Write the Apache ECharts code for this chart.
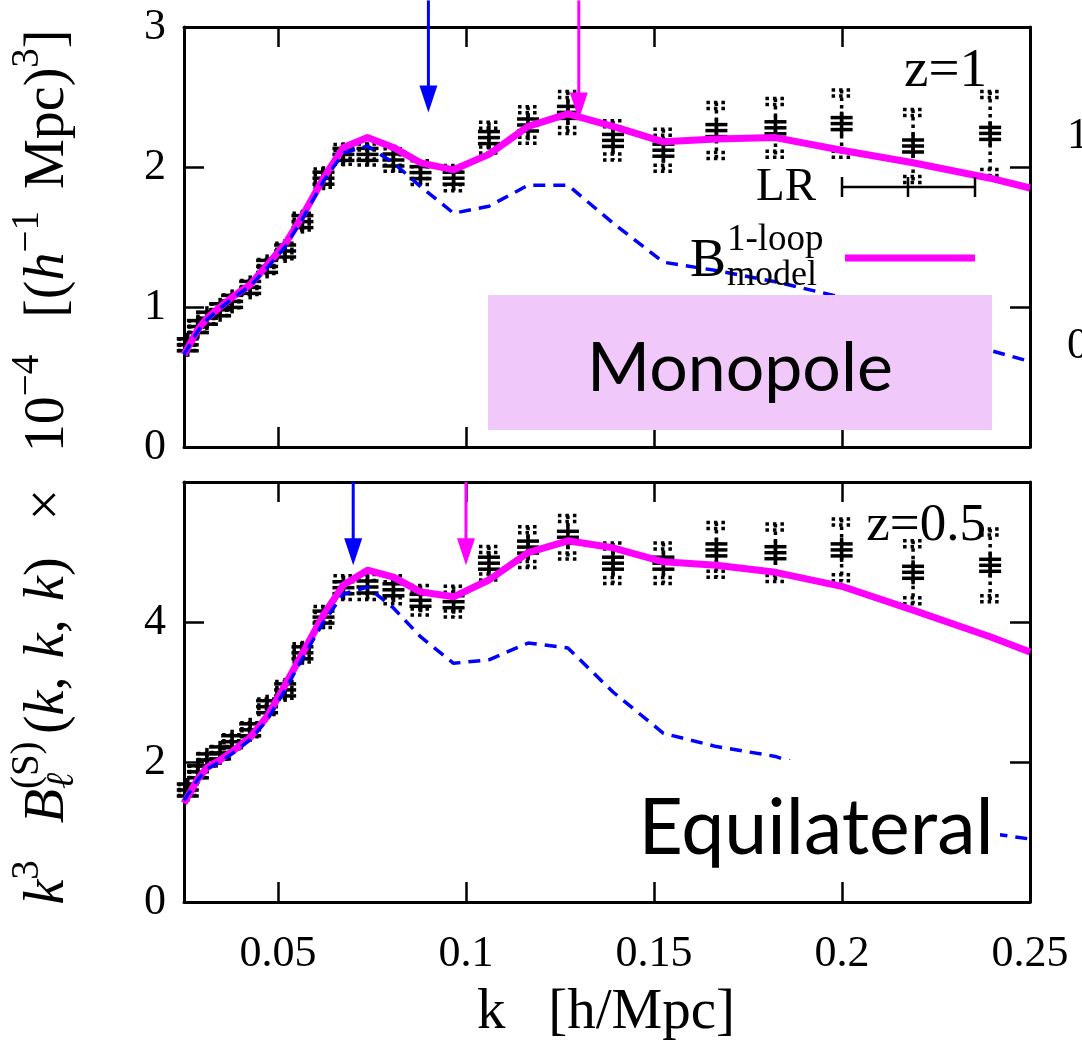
<!DOCTYPE html>
<html>
<head>
<meta charset="utf-8">
<script src="https://cdn.jsdelivr.net/npm/echarts@6/dist/echarts.min.js"></script>
<style>
html, body { margin: 0; padding: 0; background: #fff; }
#chart { width: 1082px; height: 1051px; }
</style>
</head>
<body>
<div id="chart"></div>
<script>
// Measured bispectrum bins (k in h/Mpc)
const kBins = [0.0260, 0.0287, 0.0311, 0.0346, 0.0378, 0.0426, 0.0471, 0.0519, 0.0565, 0.0621,
               0.0674, 0.0738, 0.0807, 0.0879, 0.0967, 0.1061, 0.1165, 0.1271, 0.1391, 0.1525,
               0.1666, 0.1823, 0.1999, 0.2189, 0.2394];
// Monopole, z = 1
const dataZ1 = [0.73, 0.86, 0.92, 0.98, 1.04, 1.14, 1.29, 1.40, 1.61, 1.92,
                2.09, 2.09, 2.05, 1.96, 1.92, 2.21, 2.30, 2.39, 2.19, 2.12,
                2.26, 2.28, 2.31, 2.15, 2.24];
const errZ1 = [0.04, 0.04, 0.04, 0.04, 0.045, 0.05, 0.05, 0.055, 0.06, 0.065,
               0.07, 0.075, 0.08, 0.085, 0.09, 0.11, 0.13, 0.15, 0.14, 0.15,
               0.20, 0.21, 0.24, 0.26, 0.30];
// Equilateral, z = 0.5
const dataZ05 = [1.60, 1.86, 2.03, 2.13, 2.29, 2.46, 2.79, 3.03, 3.56, 4.07,
                 4.49, 4.50, 4.46, 4.31, 4.29, 4.84, 5.07, 5.21, 4.84, 4.84,
                 5.03, 4.99, 5.03, 4.71, 4.81];
const errZ05 = [0.08, 0.08, 0.09, 0.09, 0.10, 0.10, 0.11, 0.12, 0.13, 0.15,
                0.17, 0.18, 0.20, 0.21, 0.22, 0.24, 0.29, 0.31, 0.29, 0.29,
                0.39, 0.41, 0.44, 0.45, 0.52];

// Model curves
const kModel = [0.025, 0.0287, 0.0311, 0.0346, 0.0378, 0.0426, 0.0471, 0.0519, 0.0565, 0.0621,
                0.0674, 0.0738, 0.0807, 0.0879, 0.0967, 0.1061, 0.1165, 0.1271, 0.1391, 0.1525,
                0.1666, 0.1823, 0.1999, 0.2189, 0.2394, 0.25];
const loopZ1 = [0.66, 0.84, 0.92, 1.00, 1.07, 1.16, 1.30, 1.45, 1.65, 1.92,
                2.14, 2.21, 2.14, 2.03, 1.98, 2.09, 2.29, 2.38, 2.29, 2.18,
                2.20, 2.21, 2.12, 2.03, 1.92, 1.85];
const treeZ1 = [0.66, 0.83, 0.91, 0.99, 1.06, 1.15, 1.28, 1.43, 1.63, 1.90,
                2.10, 2.15, 2.03, 1.86, 1.67, 1.72, 1.87, 1.87, 1.60, 1.32,
                1.26, 1.18, 1.07, 0.88, 0.69, 0.61];
const loopZ05 = [1.41, 1.76, 1.92, 2.03, 2.15, 2.35, 2.65, 3.10, 3.55, 4.10,
                 4.53, 4.74, 4.64, 4.43, 4.36, 4.60, 4.99, 5.16, 5.06, 4.86,
                 4.81, 4.71, 4.51, 4.17, 3.79, 3.57];
const treeZ05 = [1.45, 1.75, 1.90, 2.00, 2.12, 2.32, 2.60, 3.03, 3.48, 4.00,
                 4.40, 4.50, 4.20, 3.79, 3.41, 3.46, 3.70, 3.63, 3.00, 2.41,
                 2.22, 2.08, 1.75, 1.30, 0.98, 0.90];

// Arrows marking k_max (blue: tree level, magenta: 1-loop)
const arrowKZ1 = [0.09, 0.13];
const arrowTipZ1 = [2.39, 2.34];
const arrowTopZ1 = [3.19, 3.19];
const arrowKZ05 = [0.07, 0.10];
const arrowTipZ05 = [4.81, 4.81];
const arrowTopZ05 = [6.0, 6.0];
const arrowColors = ['#0000ff', '#ff00ff'];

// Axis ticks
const xTicks = [0.05, 0.1, 0.15, 0.2, 0.25];
const yTicksZ1 = [0, 1, 2, 3];
const yTicksZ05 = [0, 2, 4, 6];
const yLabelsZ05 = [0, 2, 4];

const SERIF = '"Liberation Serif", "Times New Roman", "DejaVu Serif", serif';
const SANS = 'Lato, "Noto Sans", sans-serif';
const MAGENTA = '#ff00ff';
const BLUE = '#0000ff';

const zip2 = (a, b) => a.map((v, i) => [v, b[i]]);
const zip3 = (a, b, c) => a.map((v, i) => [v, b[i], c[i]]);

function renderMarker(params, api) {
  const k = api.value(0), v = api.value(1), e = api.value(2);
  const c = api.coord([k, v]);
  const hi = api.coord([k, v + e]);
  const lo = api.coord([k, v - e]);
  const x = c[0], y = c[1], hw = 10;
  const solid = { stroke: '#000', lineWidth: 3.5 };
  const dots = { stroke: '#000', lineWidth: 3.5, lineDash: [3.5, 4] };
  const seg = (x1, y1, x2, y2, style) => ({ type: 'line', shape: { x1, y1, x2, y2 }, style });
  return {
    type: 'group',
    children: [
      seg(x, hi[1], x, lo[1], dots),
      seg(x - hw, hi[1], x + hw, hi[1], dots),
      seg(x - hw, hi[1] + 6, x + hw, hi[1] + 6, dots),
      seg(x - hw, lo[1], x + hw, lo[1], dots),
      seg(x - hw, lo[1] - 6, x + hw, lo[1] - 6, dots),
      seg(x - hw - 1, y - 6, x + hw + 1, y - 6, solid),
      seg(x - hw - 1, y, x + hw + 1, y, solid),
      seg(x - hw - 1, y + 6, x + hw + 1, y + 6, solid),
      seg(x, y - 12, x, y + 12, solid)
    ]
  };
}

function renderArrow(params, api) {
  const k = api.value(0), tip = api.value(1), top = api.value(2);
  const color = arrowColors[params.dataIndex];
  const t = api.coord([k, tip]);
  const s = api.coord([k, top]);
  const headH = 27, headW = 9;
  return {
    type: 'group',
    children: [
      { type: 'line', shape: { x1: t[0], y1: s[1], x2: t[0], y2: t[1] - headH + 2 },
        style: { stroke: color, lineWidth: 3 } },
      { type: 'polygon',
        shape: { points: [[t[0] - headW, t[1] - headH], [t[0] + headW, t[1] - headH], [t[0], t[1]]] },
        style: { fill: color } }
    ]
  };
}

const frameLine = { show: true, onZero: false, lineStyle: { color: '#000', width: 3 } };
const tickStyle = { color: '#000', width: 2.5 };
const labelFont = { color: '#000', fontFamily: SERIF, fontSize: 44 };

function xAxisPair(grid, showLabels) {
  return [
    { gridIndex: grid, type: 'value', position: 'bottom', min: 0.025, max: 0.25,
      axisLine: frameLine, splitLine: { show: false },
      axisTick: { inside: true, length: 20, lineStyle: tickStyle, customValues: xTicks },
      axisLabel: Object.assign({ show: showLabels, margin: 30, customValues: xTicks,
        formatter: v => String(+v.toFixed(2)) }, labelFont) },
    { gridIndex: grid, type: 'value', position: 'top', min: 0.025, max: 0.25,
      axisLine: frameLine, splitLine: { show: false },
      axisTick: { inside: true, length: 20, lineStyle: tickStyle, customValues: xTicks },
      axisLabel: { show: false } }
  ];
}

function yAxisPair(grid, max, ticks, labels) {
  return [
    { gridIndex: grid, type: 'value', position: 'left', min: 0, max: max,
      axisLine: frameLine, splitLine: { show: false },
      axisTick: { inside: true, length: 20, lineStyle: tickStyle, customValues: ticks },
      axisLabel: Object.assign({ margin: 18, customValues: labels }, labelFont) },
    { gridIndex: grid, type: 'value', position: 'right', min: 0, max: max,
      axisLine: frameLine, splitLine: { show: false },
      axisTick: { inside: true, length: 20, lineStyle: tickStyle, customValues: ticks },
      axisLabel: { show: false } }
  ];
}

function panelSeries(xi, yi, data, err, loop, tree, aK, aTip, aTop) {
  return [
    { type: 'custom', xAxisIndex: xi, yAxisIndex: yi, renderItem: renderMarker,
      data: zip3(kBins, data, err), z: 2, silent: true },
    { type: 'line', xAxisIndex: xi, yAxisIndex: yi, data: zip2(kModel, loop),
      symbol: 'none', lineStyle: { color: MAGENTA, width: 7, join: 'round' }, z: 3, silent: true },
    { type: 'line', xAxisIndex: xi, yAxisIndex: yi, data: zip2(kModel, tree),
      symbol: 'none', lineStyle: { color: BLUE, width: 3.5, type: [12, 8] }, z: 4, silent: true },
    { type: 'custom', xAxisIndex: xi, yAxisIndex: yi, renderItem: renderArrow, clip: false,
      data: zip3(aK, aTip, aTop), z: 5, silent: true }
  ];
}

// Rotated y-axis title built from pieces with super/subscripts
const mctx = document.createElement('canvas').getContext('2d');
function textWidth(font, s) { mctx.font = font; return mctx.measureText(s).width; }
const BIG = 56, SMALL = 39;
const fN = BIG + 'px ' + SERIF;
const fI = 'italic ' + BIG + 'px ' + SERIF;
const fS = SMALL + 'px ' + SERIF;
const fSI = 'italic ' + SMALL + 'px ' + SERIF;
const SUP = -20, SUB = 15;
const TITLE_LEN = 875;
// [text, font, vertical offset, advances, gap weight after]
const titlePieces = [
  ['k', fI, 0, true, 0], ['3', fS, SUP, true, 1],
  ['B', fI, 0, true, 0], ['\u2113', fSI, SUB, false, 0], ['(S)', fS, SUP, true, 0.2],
  ['(', fN, 0, true, 0], ['k', fI, 0, true, 0], [',', fN, 0, true, 0.5], ['k', fI, 0, true, 0],
  [',', fN, 0, true, 0.5], ['k', fI, 0, true, 0], [')', fN, 0, true, 1], ['\u00d7', fN, 0, true, 1],
  ['10', fN, 0, true, 0], ['\u22124', fS, SUP, true, 1], ['[(', fN, 0, true, 0], ['h', fI, 0, true, 0],
  ['\u22121', fS, SUP, true, 0.6], ['Mpc)', fN, 0, true, 0], ['3', fS, SUP, true, 0], [']', fN, 0, true, 0]
];
function buildTitle() {
  const natural = titlePieces.reduce((s, p) => s + (p[3] ? textWidth(p[1], p[0]) : 0), 0);
  const weights = titlePieces.reduce((s, p) => s + p[4], 0);
  const unit = Math.max(0, TITLE_LEN - natural) / weights;
  let x = 0;
  const children = [];
  titlePieces.forEach(([s, font, dy, adv, gap]) => {
    children.push({ type: 'text', x: x, y: dy,
      style: { text: s, font: font, fill: '#000', align: 'left', verticalAlign: 'middle',
               textAlign: 'left', textVerticalAlign: 'middle' } });
    if (adv) x += textWidth(font, s) + gap * unit;
  });
  children.forEach(c => { c.x -= x / 2; });
  return { type: 'group', x: 48, y: 467, rotation: Math.PI / 2, children: children, z: 100 };
}

function txt(text, x, y, font, align) {
  return { type: 'text', x: x, y: y, z: 101,
    style: { text: text, font: font, fill: '#000', align: align || 'left', verticalAlign: 'middle',
             textAlign: align || 'left', textVerticalAlign: 'middle' } };
}
function seg(x1, y1, x2, y2, color, w) {
  return { type: 'line', z: 101, shape: { x1, y1, x2, y2 }, style: { stroke: color, lineWidth: w } };
}

const graphics = [
  // panel labels
  { type: 'rect', z: 100, shape: { x: 488, y: 295, width: 504, height: 135 }, style: { fill: '#f0c8fa' } },
  txt('Monopole', 740, 369, '68px ' + SANS, 'center'),
  { type: 'rect', z: 100, shape: { x: 624, y: 760, width: 376, height: 118 }, style: { fill: '#fff' } },
  txt('Equilateral', 816, 829, '77px ' + SANS, 'center'),
  // redshift labels
  txt('z=1', 987, 72, '55px ' + SERIF, 'right'),
  txt('z=0.5', 986, 526, '53px ' + SERIF, 'right'),
  // legend: LR error bar
  txt('LR', 816, 188, '47px ' + SERIF, 'right'),
  seg(842, 187, 975, 187, '#000', 2.5),
  seg(842, 177, 842, 197, '#000', 2.5),
  seg(975, 177, 975, 197, '#000', 2.5),
  seg(908, 177, 908, 197, '#000', 2.5),
  // legend: 1-loop model
  txt('B', 690, 262, '54px ' + SERIF, 'left'),
  txt('1-loop', 727, 240, '37px ' + SERIF, 'left'),
  txt('model', 727, 276, '36px ' + SERIF, 'left'),
  seg(845, 258, 975, 258, MAGENTA, 7),
  // axis titles
  txt('k   [h/Mpc]', 606, 1013, '57px ' + SERIF, 'center'),
  buildTitle(),
  // tick labels of the neighbouring panel
  txt('1', 1067, 136, '44px ' + SERIF, 'left'),
  txt('0', 1067, 346, '44px ' + SERIF, 'left')
];

const chart = echarts.init(document.getElementById('chart'), null, { renderer: 'canvas' });
chart.setOption({
  animation: false,
  backgroundColor: '#fff',
  grid: [
    { left: 184, top: 27, width: 846, height: 420 },
    { left: 184, top: 482, width: 846, height: 420 }
  ],
  xAxis: [...xAxisPair(0, false), ...xAxisPair(1, true)],
  yAxis: [...yAxisPair(0, 3, yTicksZ1, yTicksZ1), ...yAxisPair(1, 6, yTicksZ05, yLabelsZ05)],
  series: [
    ...panelSeries(0, 0, dataZ1, errZ1, loopZ1, treeZ1, arrowKZ1, arrowTipZ1, arrowTopZ1),
    ...panelSeries(2, 2, dataZ05, errZ05, loopZ05, treeZ05, arrowKZ05, arrowTipZ05, arrowTopZ05)
  ],
  graphic: graphics
});
</script>
</body>
</html>
